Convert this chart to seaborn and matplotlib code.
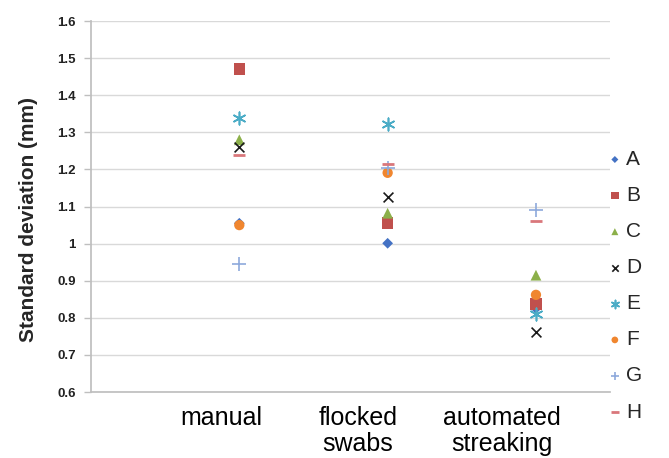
import numpy as np
import pandas as pd
import seaborn as sns
import matplotlib.pyplot as plt
from matplotlib.ticker import FuncFormatter
from matplotlib.transforms import ScaledTranslation

# methods and their x positions on the scatter axis
methods = ['manual', 'flocked\nswabs', 'automated\nstreaking']
method_x = [1, 2, 3]

# standard deviation (mm) per series, one value per method
series_A = [1.055, 1.001, 0.825]
series_B = [1.470, 1.055, 0.837]
series_C = [1.280, 1.082, 0.915]
series_D = [1.260, 1.125, 0.763]
series_E = [1.338, 1.322, 0.810]
series_F = [1.050, 1.191, 0.862]
series_G = [0.945, 1.203, 1.090]
series_H = [1.238, 1.214, 1.062]

names = ['A', 'B', 'C', 'D', 'E', 'F', 'G', 'H']
values = [series_A, series_B, series_C, series_D, series_E, series_F, series_G, series_H]

rows = []
for n, v in zip(names, values):
    for m, x, y in zip(methods, method_x, v):
        rows.append({'series': n, 'method': m, 'x': x, 'sd': y})
df = pd.DataFrame(rows)

sns.set_theme(style='white')
plt.rcParams['font.family'] = ['Liberation Sans', 'DejaVu Sans']

styles = {
    'A': dict(marker='D', color='#4472C4', s=30),
    'B': dict(marker='s', color='#C0504D', s=70),
    'C': dict(marker='^', color='#8CB04A', s=60),
    'D': dict(marker='x', color='#1a1a1a', s=50, linewidth=1.2),
    'E': dict(marker=(6, 2, 0), color='#4BACC6', s=80, linewidth=1.2),
    'F': dict(marker='o', color='#F0862F', s=55),
    'G': dict(marker='+', color='#8EA9DB', s=90, linewidth=1.2),
    'H': dict(marker='_', color='#D9777B', s=70, linewidth=2),
}

fig = plt.figure(figsize=(6.69, 4.58), dpi=100)
ax = fig.add_axes([0.136, 0.144, 0.776, 0.810])

for n in names:
    st = styles[n]
    sub = df[df['series'] == n]
    kw = dict(edgecolor='none') if st['marker'] not in ('x', '+', '_') and not isinstance(st['marker'], tuple) else {}
    sns.scatterplot(data=sub, x='x', y='sd', ax=ax, marker=st['marker'], color=st['color'],
                    s=st['s'], linewidth=st.get('linewidth', 0), label=n, zorder=3, **kw)

ax.set_xlim(0, 3.5)
ax.set_ylim(0.6, 1.6)
ax.set_yticks(np.arange(0.6, 1.61, 0.1))
ax.yaxis.set_major_formatter(FuncFormatter(lambda v, p: f'{v:.1f}'.rstrip('0').rstrip('.')))
ax.grid(axis='y', color='#D9D9D9', linewidth=1)
ax.set_axisbelow(True)

ax.set_xticks(method_x)
ax.set_xticklabels(methods, fontsize=18, color='black', linespacing=1.12)
ax.tick_params(axis='x', length=0, pad=10)
label_shift_px = [-18, -30, -34]
for lbl, dx in zip(ax.get_xticklabels(), label_shift_px):
    lbl.set_transform(lbl.get_transform() + ScaledTranslation(dx / 100, 0, fig.dpi_scale_trans))

ax.tick_params(axis='y', labelsize=9.5, length=5, width=1, color='#BFBFBF', left=True, pad=6)
for lbl in ax.get_yticklabels():
    lbl.set_fontweight('bold')
    lbl.set_color('#222222')

for side in ['top', 'right']:
    ax.spines[side].set_visible(False)
ax.spines['left'].set_color('#BFBFBF')
ax.spines['bottom'].set_color('#BFBFBF')

ax.set_xlabel('')
ax.set_ylabel('Standard deviation (mm)', fontsize=15, fontweight='bold')
ax.yaxis.set_label_coords(-0.103, 0.465)

ax.legend(loc='upper left', bbox_to_anchor=(0.977, 0.675), frameon=False, fontsize=15,
          handletextpad=0.15, labelspacing=0.82, handlelength=0.8, borderaxespad=0,
          markerscale=0.65)

fig.savefig('out.png', dpi=100)
